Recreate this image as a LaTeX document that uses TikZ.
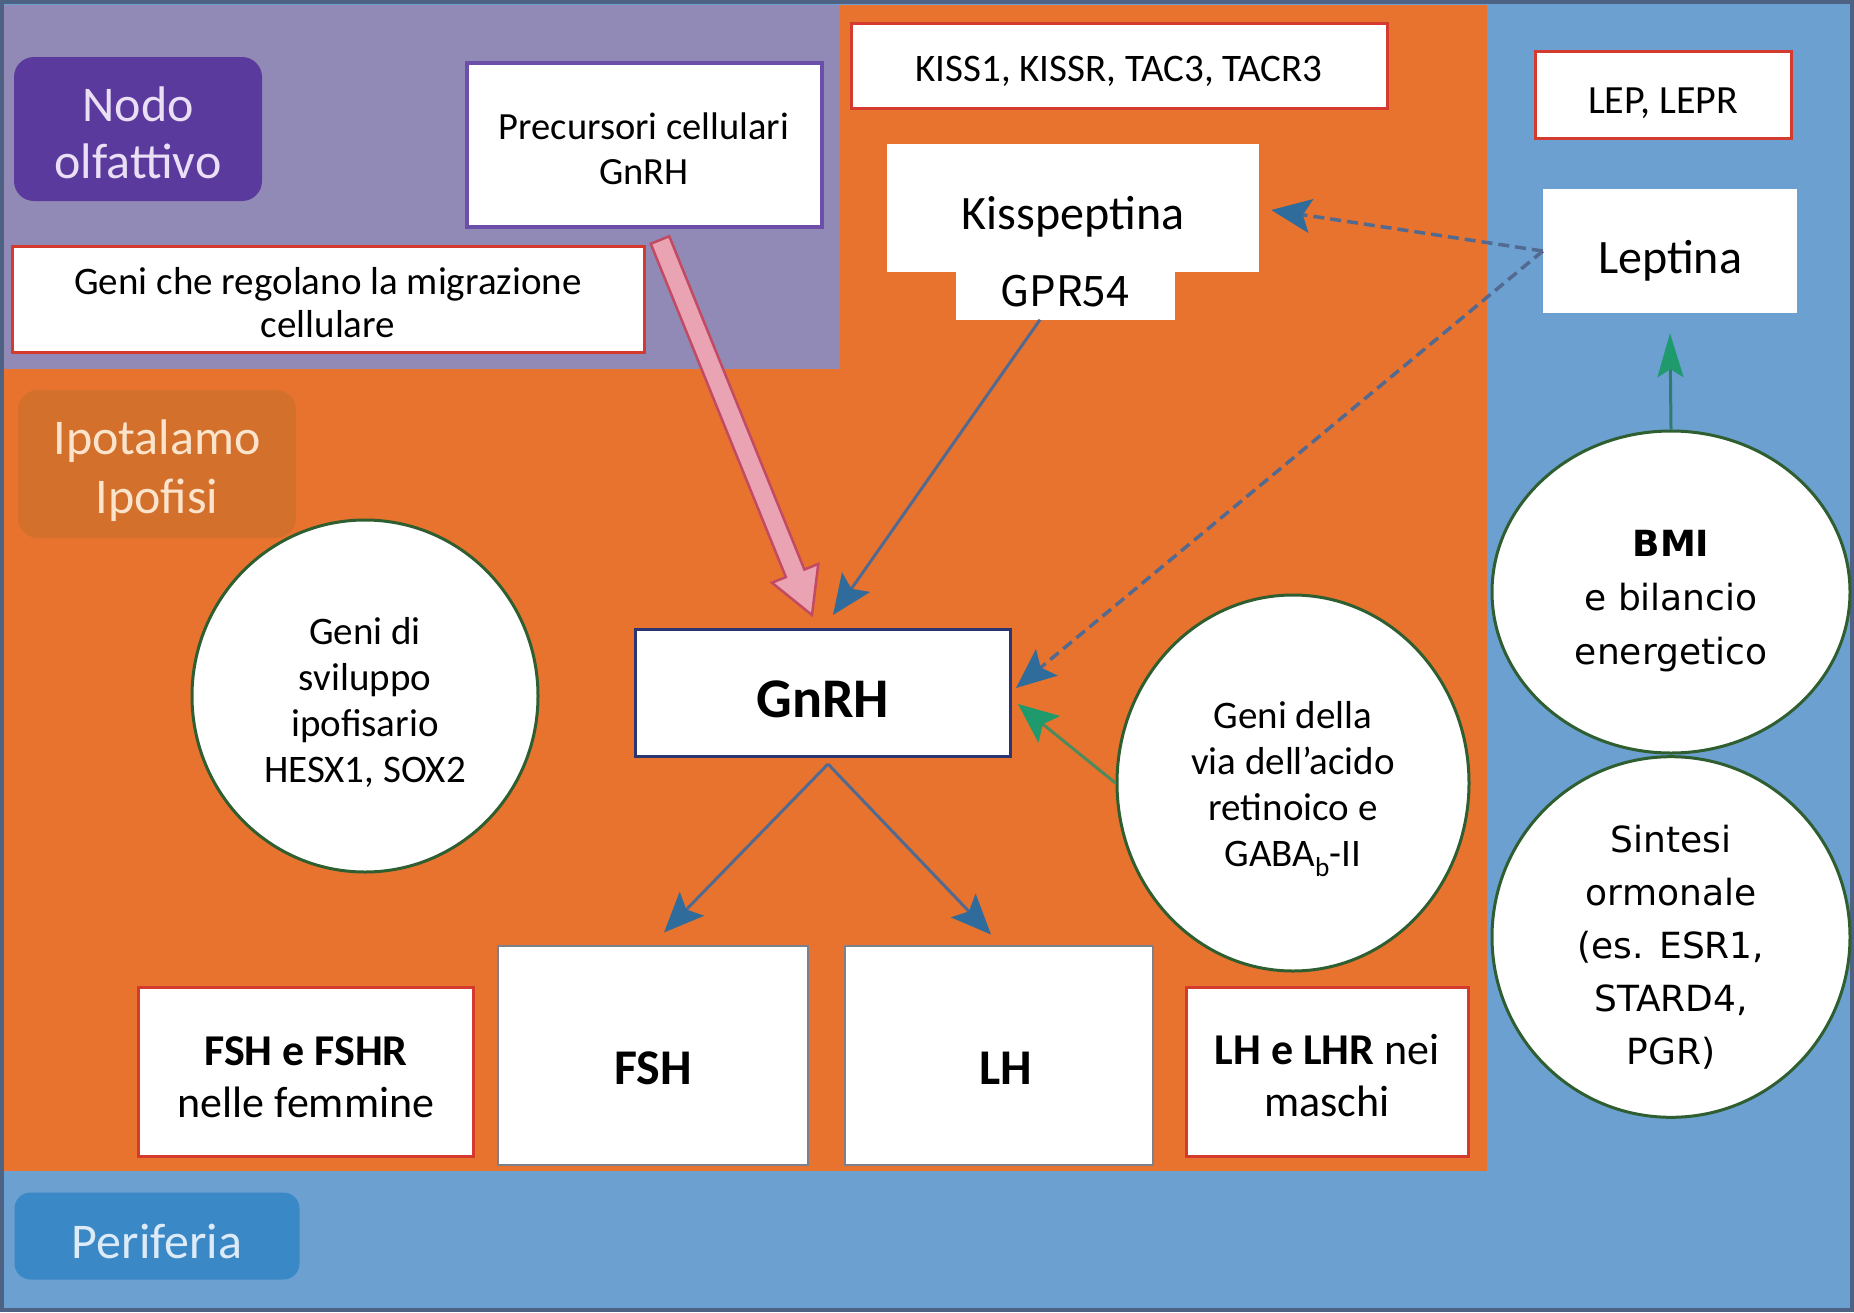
\documentclass[tikz,border=0pt]{standalone}
\usepackage{fontspec}
\setmainfont{Carlito}
\newfontfamily\verd{DejaVu Sans}
\newfontfamily\jpf{Noto Sans CJK JP}
\usetikzlibrary{arrows.meta,calc,shapes.geometric}
\newcommand\fsz[2]{\fontsize{#1}{#2}\selectfont}

\definecolor{orng}{HTML}{E8732E}
\definecolor{purp}{HTML}{9189B6}
\definecolor{blu}{HTML}{6BA0D1}
\definecolor{nodop}{HTML}{5A3A9C}
\definecolor{nodot}{HTML}{EADFF5}
\definecolor{ipoto}{HTML}{D2702C}
\definecolor{ipott}{HTML}{FCE4CC}
\definecolor{perib}{HTML}{3B88C6}
\definecolor{perit}{HTML}{DCEBF7}
\definecolor{redb}{HTML}{D43A2E}
\definecolor{purb}{HTML}{6B4FA8}
\definecolor{navyb}{HTML}{2B3570}
\definecolor{greenb}{HTML}{2F5E30}
\definecolor{grayb}{HTML}{7C7F8C}
\definecolor{headb}{HTML}{2F6C9C}
\definecolor{lineb}{HTML}{536A90}
\definecolor{grn}{HTML}{1E9A6C}
\definecolor{grnl}{HTML}{4E8A5C}
\definecolor{teal}{HTML}{2E7C70}
\definecolor{pinkf}{HTML}{E9A3B3}
\definecolor{pinkd}{HTML}{C24A62}
\definecolor{framec}{HTML}{4E6283}

\begin{document}
\begin{tikzpicture}[x=1pt,y=-1pt,
  base/.style={inner sep=0pt, align=center, text=black, text depth=0pt},
  wbox/.style={base, rectangle, fill=white},
  redbox/.style={wbox, draw=redb, line width=3pt},
  gbox/.style={wbox, draw=grayb, line width=2pt},
  circ/.style={base, ellipse, fill=white, draw=greenb, line width=3pt},
  tag/.style={base, rectangle, rounded corners=20pt},
  bluearr/.style={draw=lineb, line width=3pt, -{Stealth[length=40pt,width=34pt,inset=8pt,color=headb]}},
  dasharr/.style={draw=lineb, line width=3.5pt, dash pattern=on 11pt off 6pt, -{Stealth[length=40pt,width=34pt,inset=8pt,color=headb]}},
  grnarr/.style={draw=grnl, line width=3pt, -{Stealth[length=40pt,width=34pt,inset=8pt,color=grn]}},
  grnarrb/.style={draw=teal, line width=3pt, -{Stealth[length=44pt,width=26pt,inset=8pt,color=grn]}}
]
\useasboundingbox (0,0) rectangle (1854,1312);
% regions
\fill[blu] (0,0) rectangle (1854,1312);
\fill[orng] (0,5) rectangle (1487,1171);
\fill[purp] (0,5) rectangle (840,369);
\draw[framec, line width=4pt] (2,2) rectangle (1852,1310);

% region tags
\node[tag, fill=nodop, text=nodot, minimum width=248pt, minimum height=144pt, font=\fsz{50}{57}, text height=98pt] (nodo) at (138,129) {Nodo\\olfattivo};
\node[tag, fill=ipoto, text=ipott, minimum width=278pt, minimum height=148pt, font=\fsz{50}{59}, text height=99pt] (ipot) at (157,464) {Ipotalamo\\Ipofisi};
\node[tag, rounded corners=16pt, fill=perib, text=perit, minimum width=285pt, minimum height=87pt, font=\fsz{50}{58}, text height=45.5pt] (peri) at (157,1236) {Periferia};

% boxes
\node[wbox, draw=purb, line width=4pt, minimum width=355pt, minimum height=164pt, font=\fsz{38.5}{45}, text height=79pt] (prec) at (644,145) {Precursori cellulari\\GnRH};
\node[redbox, minimum width=632pt, minimum height=106pt, font=\fsz{39}{43}, text height=76pt] (migr) at (328,299) {Geni che regolano la migrazione\\cellulare};
\node[redbox, minimum width=536pt, minimum height=85pt, font=\fsz{39}{46}, text height=30pt] (kgen) at (1119,66) {KISS1, KISSR, TAC3, TACR3};
\node[wbox, minimum width=372pt, minimum height=128pt, font=\fsz{48}{58}, text height=42pt] (kiss) at (1073,208) {Kisspeptina};
\node[wbox, minimum width=219pt, minimum height=57pt, font=\jpf\fsz{42}{50}, text depth=, text height=] (gpr) at (1065,291) {GPR54};
\node[redbox, minimum width=256pt, minimum height=87pt, font=\fsz{40}{46}, text height=36pt] (lgen) at (1663,95) {LEP, LEPR};
\node[wbox, minimum width=254pt, minimum height=124pt, font=\fsz{48}{58}, text height=44pt] (lept) at (1670,251) {Leptina};
\node[wbox, draw=navyb, line width=3pt, minimum width=375pt, minimum height=127pt, font=\bfseries\fsz{56}{64}, text height=49pt] (gnrh) at (823,693) {GnRH};

% ellipses
\node[circ, minimum width=346pt, minimum height=352pt, font=\fsz{39}{46}, text height=172pt] (gsvil) at (365,696) {Geni di\\sviluppo\\ipofisario\\HESX1, SOX2};
\node[circ, minimum width=352pt, minimum height=376pt, font=\fsz{39}{46}, text height=167pt] (gvia) at (1293,783) {Geni della\\via dell’acido\\retinoico e\\GABA\textsubscript{b}-II};
\node[circ, minimum width=358pt, minimum height=322pt, font=\verd\fsz{36}{54}, text height=144pt] (bmi) at (1671,592) {{\bfseries BMI}\\e bilancio\\energetico};
\node[circ, minimum width=358pt, minimum height=354pt, font=\verd\fsz{36}{53}, text height=255pt] (sint) at (1671,937) {Sintesi\\ormonale\\(es. ESR1,\\STARD4,\\PGR)};

% bottom boxes
\node[redbox, minimum width=335pt, minimum height=169pt, font=\fsz{44}{52}, text height=90pt] (fshr) at (306,1072) {{\bfseries FSH e FSHR}\\nelle femmine};
\node[gbox, minimum width=310pt, minimum height=219pt, font=\bfseries\fsz{50}{56}, text height=58pt] (fsh) at (653,1055) {FSH};
\node[gbox, minimum width=308pt, minimum height=219pt, font=\bfseries\fsz{50}{56}, text height=58pt] (lh) at (999,1055) {\hspace*{14pt}LH};
\node[redbox, minimum width=282pt, minimum height=169pt, font=\fsz{44}{52}, text height=88.5pt] (lhr) at (1327,1072) {{\bfseries LH e LHR} nei\\maschi};

% pink block arrow
\coordinate (pa) at ($(prec.south)+(16,11)$);
\coordinate (pb) at ($(gnrh.north)+(-11,-13)$);
\coordinate (hb) at ($(pb)!45pt!(pa)$);
\filldraw[fill=pinkf, draw=pinkd, line width=2.5pt, line join=miter]
  ($(pa)!10pt!90:(pb)$) -- ($(hb)!10pt!90:(pb)$) -- ($(hb)!25pt!90:(pb)$) -- (pb)
  -- ($(hb)!25pt!-90:(pb)$) -- ($(hb)!10pt!-90:(pb)$) -- ($(pa)!10pt!-90:(pb)$) -- cycle;

% connectors
\draw[bluearr] ($(gpr.south)+(-25,0)$) -- ($(gnrh.north)+(10,-13)$);
\draw[dasharr] (lept.west) -- ($(kiss.east)+(12,2)$);
\draw[dasharr] (lept.west) -- ($(gnrh.east)+(4,-5)$);
\draw[grnarr] (gvia.west) -- ($(gnrh.east)+(6,11)$);
\draw[grnarrb] (bmi.north) -- ($(lept.south)+(0,20)$);
\draw[bluearr] ($(gnrh.south)+(5,6)$) -- ($(fsh.north)+(11,-12)$);
\draw[bluearr] ($(gnrh.south)+(5,6)$) -- ($(lh.north)+(-8,-10)$);
\end{tikzpicture}
\end{document}
